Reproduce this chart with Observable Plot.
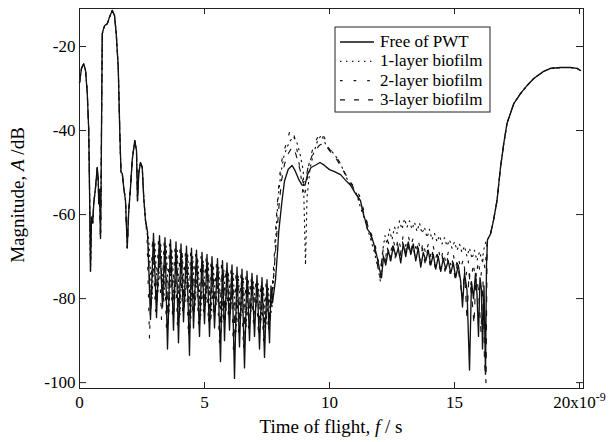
<!DOCTYPE html>
<html><head><meta charset="utf-8">
<script src="https://cdn.jsdelivr.net/npm/d3@7"></script>
<script src="https://cdn.jsdelivr.net/npm/@observablehq/plot@0.6"></script>
<style>body{margin:0;background:#fff}</style>
</head><body><div id="chart"></div>
<script>
// ---- data (time in ns, magnitude in dB) ----
const seriesNames = ["Free of PWT", "1-layer biofilm", "2-layer biofilm", "3-layer biofilm"];
const xTicks = [0, 5, 10, 15, 20];
const xTickLabels = ["0", "5", "10", "15", "20x10"];
const yTicks = [-20, -40, -60, -80, -100];
const yTickLabels = ["-20", "-40", "-60", "-80", "-100"];

const sharedStart = [[0,-28.6],[0.08,-25.2],[0.17,-24.1],[0.24,-25.7],[0.31,-31],[0.37,-40],[0.41,-58],[0.44,-73.5],[0.48,-60.6],[0.53,-62],[0.57,-57.4],[0.64,-53.6],[0.71,-48.8],[0.75,-51.9],[0.77,-57.4],[0.8,-54],[0.84,-65.7],[0.86,-56],[0.88,-40],[0.91,-17],[0.96,-15.8],[1.01,-15],[1.11,-14.6],[1.2,-13],[1.31,-11.4],[1.4,-12.6],[1.47,-17],[1.55,-25],[1.61,-40],[1.66,-50],[1.71,-50.2],[1.77,-53.6],[1.84,-56.7],[1.91,-67.9],[1.97,-59],[2.04,-53.6],[2.11,-47],[2.21,-42.4],[2.28,-44.8],[2.32,-56.7],[2.37,-50.2],[2.44,-47.6],[2.51,-48.8],[2.57,-56],[2.64,-61.4]];

const sharedEnd = [[16.32,-66],[16.44,-64.6],[16.56,-61.4],[16.7,-56.7],[16.84,-48.8],[16.97,-43.1],[17.1,-38.3],[17.37,-33.6],[17.64,-31.2],[17.9,-29.3],[18.17,-27.6],[18.57,-25.9],[18.84,-25.2],[19.24,-25],[19.64,-25],[19.9,-25.2],[20.04,-25.7]];

const freeOsc = [[2.72,-64],[2.84,-85],[2.96,-64.5],[3.08,-84.5],[3.2,-65],[3.32,-82],[3.42,-65.5],[3.52,-92],[3.64,-66],[3.76,-87.5],[3.86,-66.5],[3.96,-90.5],[4.06,-67],[4.16,-85.5],[4.28,-67.5],[4.4,-93.5],[4.48,-68],[4.56,-87],[4.68,-68.5],[4.8,-89],[4.9,-69],[5.0,-86],[5.1,-69.5],[5.2,-89],[5.3,-70],[5.4,-87],[5.52,-70.5],[5.64,-95],[5.72,-71],[5.8,-90],[5.9,-71.5],[6.0,-87.5],[6.1,-72],[6.2,-99],[6.3,-72.5],[6.4,-91.5],[6.5,-73],[6.6,-96.5],[6.7,-73.5],[6.8,-90],[6.9,-74],[7.0,-89],[7.1,-74.5],[7.2,-92],[7.3,-75],[7.4,-94],[7.5,-75.5],[7.6,-90.5],[7.66,-77]];
const freeHump = [[7.72,-81],[7.84,-75.5],[7.92,-69],[7.97,-64],[8.1,-56.7],[8.2,-52],[8.35,-49.2],[8.5,-48.3],[8.62,-49.5],[8.76,-51.5],[8.9,-53],[9.02,-53],[9.12,-50.5],[9.26,-48.8],[9.45,-48.2],[9.62,-47.6],[9.8,-48.3],[10.0,-49.3],[10.2,-49.8],[10.44,-50.5],[10.64,-51.8],[10.84,-53],[11.04,-55],[11.24,-56.7],[11.36,-60],[11.44,-61.5],[11.52,-63.5],[11.64,-64.5],[11.76,-66.7]];
const freeNoise = [[11.9,-70],[12.0,-73],[12.08,-75],[12.16,-70],[12.25,-72],[12.35,-68.5],[12.45,-71],[12.55,-67.5],[12.65,-70],[12.75,-68],[12.85,-71.5],[12.95,-67],[13.05,-70],[13.15,-66.5],[13.25,-69.5],[13.35,-67],[13.45,-71],[13.55,-68],[13.65,-72.5],[13.75,-69],[13.85,-71],[13.95,-68.5],[14.05,-72],[14.15,-69.5],[14.25,-73],[14.35,-70],[14.45,-73.5],[14.55,-70.5],[14.65,-73],[14.75,-71],[14.85,-74],[14.95,-71.5],[15.05,-75],[15.15,-72],[15.25,-76],[15.32,-82],[15.4,-74],[15.5,-78],[15.6,-97],[15.68,-76],[15.76,-80],[15.84,-74],[15.9,-79],[15.96,-89],[16.02,-75],[16.08,-78],[16.12,-92],[16.18,-77],[16.24,-98],[16.28,-72]];

const l1Osc = [[2.77,-66],[2.9,-80],[3.01,-66.5],[3.13,-79],[3.25,-67],[3.37,-81],[3.47,-67.5],[3.58,-83],[3.69,-68],[3.81,-80],[3.91,-68.5],[4.02,-84],[4.11,-69],[4.22,-81],[4.33,-69.5],[4.45,-85],[4.53,-70],[4.62,-82],[4.73,-70.5],[4.85,-84],[4.95,-71],[5.06,-81],[5.15,-71.5],[5.26,-85],[5.35,-72],[5.46,-82],[5.57,-72.5],[5.69,-86],[5.77,-73],[5.86,-83],[5.95,-73.5],[6.06,-82],[6.15,-74],[6.26,-88],[6.35,-74.5],[6.46,-84],[6.55,-75],[6.66,-87],[6.75,-75.5],[6.86,-83],[6.95,-76],[7.06,-82],[7.15,-76.5],[7.26,-85],[7.35,-77],[7.46,-86],[7.55,-77.5],[7.64,-84]];
const l1Hump = [[7.7,-82],[7.8,-72],[7.88,-62],[7.96,-55],[8.06,-50],[8.18,-46],[8.3,-44],[8.42,-42.5],[8.55,-41.5],[8.68,-42.5],[8.82,-45.5],[8.95,-49.5],[9.04,-72],[9.1,-56],[9.22,-49],[9.36,-45.5],[9.52,-42.5],[9.68,-41],[9.86,-43.5],[10.1,-45],[10.3,-46.5],[10.45,-48],[10.7,-51.5],[10.9,-53.5],[11.05,-54.5],[11.24,-58.3],[11.4,-61],[11.5,-63],[11.65,-66],[11.8,-69],[11.95,-73],[12.04,-76]];
const l1Noise = [[12.12,-69],[12.22,-65],[12.3,-67],[12.4,-63.5],[12.5,-66],[12.6,-63],[12.7,-64.5],[12.8,-61.5],[12.9,-63.5],[13.0,-61],[13.1,-63],[13.2,-61.5],[13.3,-63.5],[13.4,-61.8],[13.5,-64],[13.6,-62],[13.7,-64.5],[13.8,-63],[13.9,-65.5],[14.0,-63.5],[14.1,-66],[14.2,-64.5],[14.3,-66.5],[14.4,-65],[14.5,-67],[14.6,-65.5],[14.7,-67.5],[14.8,-66],[14.9,-68],[15.0,-66.5],[15.1,-68.5],[15.2,-67],[15.3,-69],[15.4,-67.5],[15.5,-70],[15.6,-68],[15.7,-70.5],[15.8,-68.5],[15.9,-71],[16.0,-68.8],[16.1,-71],[16.2,-67.5],[16.28,-66]];

const l2Osc = [[2.7,-65],[2.8,-89.5],[2.92,-65.5],[3.04,-83],[3.16,-66],[3.28,-85],[3.38,-66.5],[3.48,-88],[3.6,-67],[3.72,-84],[3.82,-67.5],[3.92,-87],[4.02,-68],[4.12,-83],[4.24,-68.5],[4.36,-89],[4.44,-69],[4.52,-84],[4.64,-69.5],[4.76,-86],[4.86,-70],[4.96,-83],[5.06,-70.5],[5.16,-86],[5.26,-71],[5.36,-84],[5.48,-71.5],[5.6,-91],[5.68,-72],[5.76,-86],[5.86,-72.5],[5.96,-85],[6.06,-73],[6.16,-93],[6.26,-73.5],[6.36,-88],[6.46,-74],[6.56,-92],[6.66,-74.5],[6.76,-87],[6.86,-75],[6.96,-86],[7.06,-75.5],[7.16,-89],[7.26,-76],[7.36,-90],[7.46,-76.5],[7.56,-88],[7.64,-79]];
const l2Hump = [[7.68,-80],[7.78,-71],[7.86,-62],[7.94,-55],[8.04,-49],[8.14,-45.5],[8.28,-43],[8.42,-40],[8.52,-39.8],[8.62,-42],[8.74,-46],[8.86,-51],[8.96,-56],[9.06,-54],[9.16,-48.5],[9.3,-45],[9.45,-42.5],[9.58,-41],[9.7,-40.5],[9.82,-42],[10.0,-44.5],[10.2,-45.5],[10.4,-47.5],[10.6,-50],[10.8,-52],[11.0,-53.5],[11.2,-55.5],[11.4,-59.5],[11.55,-63],[11.7,-65]];
const l2Noise = [[11.82,-67],[11.95,-71],[12.05,-73],[12.15,-68],[12.25,-70],[12.35,-66.5],[12.45,-69],[12.55,-66],[12.65,-68.5],[12.75,-65.5],[12.85,-68],[12.95,-65],[13.05,-67.5],[13.15,-65],[13.25,-67.5],[13.35,-65.5],[13.45,-68],[13.55,-66],[13.65,-69],[13.75,-66.5],[13.85,-69.5],[13.95,-67],[14.05,-70],[14.15,-67.5],[14.25,-70.5],[14.35,-68],[14.45,-71],[14.55,-68.5],[14.65,-71.5],[14.75,-69],[14.85,-72],[14.95,-69.5],[15.05,-72.5],[15.15,-70],[15.25,-73],[15.35,-70.5],[15.45,-75],[15.55,-71],[15.65,-77],[15.75,-71.5],[15.85,-76],[15.95,-71],[16.05,-75],[16.15,-70],[16.22,-73],[16.3,-67]];

const l3Osc = [[2.74,-66],[2.86,-83],[2.98,-66.5],[3.1,-81],[3.22,-67],[3.34,-80],[3.44,-67.5],[3.55,-86],[3.66,-68],[3.78,-83],[3.88,-68.5],[3.99,-85],[4.08,-69],[4.19,-82],[4.3,-69.5],[4.42,-87],[4.5,-70],[4.59,-83],[4.7,-70.5],[4.82,-85],[4.92,-71],[5.03,-82],[5.12,-71.5],[5.23,-85],[5.32,-72],[5.43,-83],[5.54,-72.5],[5.66,-88],[5.74,-73],[5.83,-85],[5.92,-73.5],[6.03,-84],[6.12,-74],[6.23,-90],[6.32,-74.5],[6.43,-86],[6.52,-75],[6.63,-89],[6.72,-75.5],[6.83,-85],[6.92,-76],[7.03,-84],[7.12,-76.5],[7.23,-87],[7.32,-77],[7.43,-88],[7.52,-77.5],[7.62,-86]];
const l3Hump = [[7.7,-79],[7.8,-72],[7.9,-64],[7.98,-58],[8.08,-52],[8.2,-48],[8.35,-45.5],[8.5,-44],[8.6,-44.5],[8.72,-47],[8.85,-50],[8.95,-52.5],[9.05,-51.5],[9.15,-48.5],[9.3,-46],[9.45,-44.5],[9.6,-43.5],[9.75,-43],[9.9,-44],[10.1,-45.5],[10.3,-47],[10.5,-49],[10.7,-51],[10.9,-53],[11.1,-55],[11.3,-58.5],[11.5,-62],[11.65,-65]];
const l3Noise = [[11.8,-68],[11.92,-72],[12.02,-75],[12.12,-69],[12.22,-72],[12.32,-68],[12.42,-71],[12.52,-67.5],[12.62,-70.5],[12.72,-67],[12.82,-70],[12.92,-66.5],[13.02,-69.5],[13.12,-66.5],[13.22,-69.5],[13.32,-67],[13.42,-70],[13.52,-67.5],[13.62,-71],[13.72,-68],[13.82,-71.5],[13.92,-68.5],[14.02,-72],[14.12,-69],[14.22,-72.5],[14.32,-69.5],[14.42,-73],[14.52,-70],[14.62,-73.5],[14.72,-70.5],[14.82,-74],[14.92,-71],[15.02,-75],[15.12,-71.5],[15.22,-76],[15.32,-80],[15.4,-73],[15.5,-85],[15.58,-74],[15.7,-80],[15.78,-86],[15.86,-74],[15.96,-78],[16.06,-88],[16.14,-76],[16.2,-95],[16.26,-100],[16.3,-70]];

// ---- build table ----
const seriesParts = [
  [freeOsc, freeHump, freeNoise],
  [l1Osc, l1Hump, l1Noise],
  [l2Osc, l2Hump, l2Noise],
  [l3Osc, l3Hump, l3Noise]
];
const rows = seriesNames.flatMap((name, k) =>
  [sharedStart, ...seriesParts[k], sharedEnd].flat().map(([t, a]) => ({series: name, t, a})));

const dashes = [null, "1.4,4.6", "2.6,11", "5,9"];
const widths = [1.35, 1.15, 1.15, 1.15];

const W = 611, H = 442, ML = 79, MR = 28, MT = 8, MB = 54;
const PW = W - ML - MR, PH = H - MT - MB;
const font = "'Liberation Serif','Times New Roman',Times,serif";
const ink = "#111";

const plot = Plot.plot({
  width: W, height: H, marginLeft: ML, marginRight: MR, marginTop: MT, marginBottom: MB,
  style: {fontFamily: font, fontSize: "17px", color: "#000", background: "#fff"},
  x: {domain: [0, 20.16]},
  y: {domain: [-101.4, -10.95]},
  marks: [
    ...seriesNames.slice().reverse().map((name) => {
      const k = seriesNames.indexOf(name);
      return Plot.line(rows.filter(r => r.series === name), {
        x: "t", y: "a", stroke: ink, strokeWidth: widths[k],
        strokeDasharray: dashes[k] ?? undefined, strokeLinejoin: "round"
      });
    }),
    Plot.frame({stroke: "#222", strokeWidth: 1}),
    Plot.tickY(yTicks, {y: d => d, insetRight: PW - 7, stroke: "#222"}),
    Plot.tickY(yTicks, {y: d => d, insetLeft: PW - 7, stroke: "#222"}),
    Plot.tickX(xTicks, {x: d => d, insetTop: PH - 6, stroke: "#222"}),
    Plot.tickX(xTicks, {x: d => d, insetBottom: PH - 6, stroke: "#222"}),
    Plot.axisX({ticks: xTicks, tickSize: 0, tickPadding: 7, label: null, fontSize: 17,
      tickFormat: d => xTickLabels[xTicks.indexOf(d)]}),
    Plot.axisY({ticks: yTicks, tickSize: 0, tickPadding: 4, label: null, fontSize: 17,
      tickFormat: d => yTickLabels[yTicks.indexOf(d)]})
  ]
});

document.getElementById("chart").appendChild(plot);
const svg = d3.select(plot);

// superscript exponent on last x tick
svg.selectAll('g[aria-label="x-axis tick label"] text').each(function () {
  if (this.textContent === "20x10") {
    const t = d3.select(this);
    t.text("");
    t.append("tspan").text("20x10");
    t.append("tspan").attr("dy", "-0.55em").attr("font-size", "12px").text("-9");
  }
});

// axis titles with italic symbols
const xt = svg.append("text").attr("x", ML + PW / 2).attr("y", 433)
  .attr("text-anchor", "middle").attr("font-family", font).attr("font-size", 19).attr("fill", "#000");
xt.append("tspan").text("Time of flight, ");
xt.append("tspan").attr("font-style", "italic").text("f");
xt.append("tspan").text(" / s");

const yt = svg.append("text").attr("transform", `translate(24,${MT + PH / 2 - 3}) rotate(-90)`)
  .attr("text-anchor", "middle").attr("font-family", font).attr("font-size", 19).attr("fill", "#000");
yt.append("tspan").text("Magnitude, ");
yt.append("tspan").attr("font-style", "italic").text("A");
yt.append("tspan").text(" /dB");

// legend
const lg = svg.append("g").attr("font-family", font).attr("font-size", 17).attr("text-anchor", "start");
lg.append("rect").attr("x", 335).attr("y", 27).attr("width", 155).attr("height", 85)
  .attr("fill", "#fff").attr("stroke", "#222").attr("stroke-width", 1);
seriesNames.forEach((name, k) => {
  const yb = 47 + k * 19.3;
  lg.append("line").attr("x1", 340).attr("x2", 374).attr("y1", yb - 5).attr("y2", yb - 5)
    .attr("stroke", ink).attr("stroke-width", widths[k])
    .attr("stroke-dasharray", dashes[k] ?? null);
  lg.append("text").attr("x", 380).attr("y", yb).attr("text-anchor", "start").attr("fill", "#000").text(name);
});
</script>
</body></html>
